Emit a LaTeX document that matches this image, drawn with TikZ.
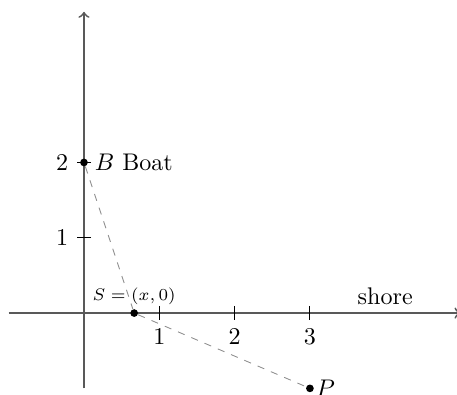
\documentclass[tikz,border=0pt]{standalone}
\begin{document}
\begin{tikzpicture}[x=1.1cm,y=1.1cm,
  axis/.style={black!65,line width=0.75pt},
  tickmark/.style={black,thin},
  dot/.style={circle,fill=black,inner sep=0pt,minimum size=3.2pt},
  conn/.style={gray!90,dashed,line width=0.35pt}]
\useasboundingbox (-1.115,-1.076) rectangle (4.953,4.157);
% axes
\coordinate (xl) at (-1,0);
\coordinate (xr) at (5,0);
\coordinate (yb) at (0,-1);
\coordinate (yt) at (0,4);
\draw[axis,->] (xl) -- (xr);
\draw[axis,->] (yb) -- (yt);
% ticks
\foreach \i in {1,2,3} {
  \draw[tickmark] (\i,3pt) -- (\i,-3pt) node[below] (xt\i) {$\i$};
}
\foreach \i in {1,2} {
  \draw[tickmark] (3pt,\i) -- (-3pt,\i) node[left] (yt\i) {$\i$};
}
\node[above] (shore) at (4,0) {shore};
% points
\node[dot] (B) at (0,2) {};
\node[dot] (S) at (2/3,0) {};
\node[dot] (P) at (3,-1) {};
\node[right=1pt] (Blab) at (B.center) {$B$ Boat};
\node[above] (Slab) at (S.center) {\scriptsize $S=(x,0)$};
\node[right=-1pt] (Plab) at (P.center) {$P$};
\draw[conn] (B) -- (S) -- (P);
\end{tikzpicture}
\end{document}
